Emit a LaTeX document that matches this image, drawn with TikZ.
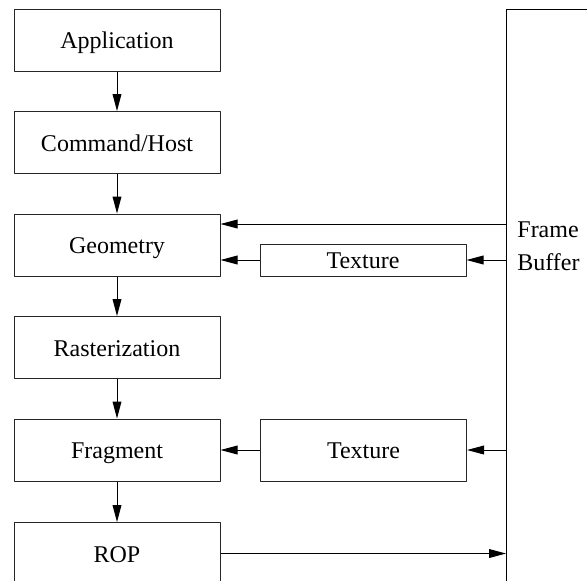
\documentclass[tikz,border=0pt]{standalone}
\usepackage{fontspec}
\setmainfont{Liberation Serif}
\usetikzlibrary{arrows.meta,positioning}

\begin{document}
\begin{tikzpicture}[x=0.5pt, y=-0.5pt, >={Triangle[length=8.5pt,width=4.4pt]}, line join=round,
  stage/.style={draw=black!85, line width=0.5pt, minimum width=103pt, minimum height=31pt,
    inner sep=0pt, text height=8.5pt, text depth=0pt, font=\fontsize{12}{14}\selectfont},
  flow/.style={->, line width=0.5pt}]
  \clip (0,0) rectangle (587,580);
  % pipeline stages
  \node[stage] (app) at (117,40) {Application};
  \node[stage] (cmd) at (117,142.5) {Command/Host};
  \node[stage] (geo) at (117,245) {Geometry};
  \node[stage] (rast) at (117,347.5) {Rasterization};
  \node[stage] (frag) at (117,450) {Fragment};
  \node[stage, anchor=north] (rop) at (117,522) {ROP};
  % texture units
  \node[stage, minimum height=16pt] (tex1) at (363,260) {Texture};
  \node[stage] (tex2) at (363.5,450) {Texture};
  % frame buffer
  \node[draw, line width=0.6pt, anchor=north west, minimum width=60pt, minimum height=320pt] (fb) at (506,9) {};
  \node[anchor=west, align=left, inner sep=0pt, font=\fontsize{12}{16.5}\selectfont] (fblabel) at (517,246) {Frame\\Buffer};
  \coordinate (fbgeo) at (506,224);
  \draw[flow] (app) -- (cmd);
  \draw[flow] (cmd) -- (geo);
  \draw[flow] (geo) -- (rast);
  \draw[flow] (rast) -- (frag);
  \draw[flow] (frag) -- (rop);
  \draw[flow] (fbgeo) -- (fbgeo -| geo.east);
  \draw[flow] (tex1 -| fb.west) -- (tex1);
  \draw[flow] (tex1) -- (tex1 -| geo.east);
  \draw[flow] (tex2 -| fb.west) -- (tex2);
  \draw[flow] (tex2) -- (frag);
  \draw[flow] (rop) -- (rop -| fb.west);
\end{tikzpicture}
\end{document}
